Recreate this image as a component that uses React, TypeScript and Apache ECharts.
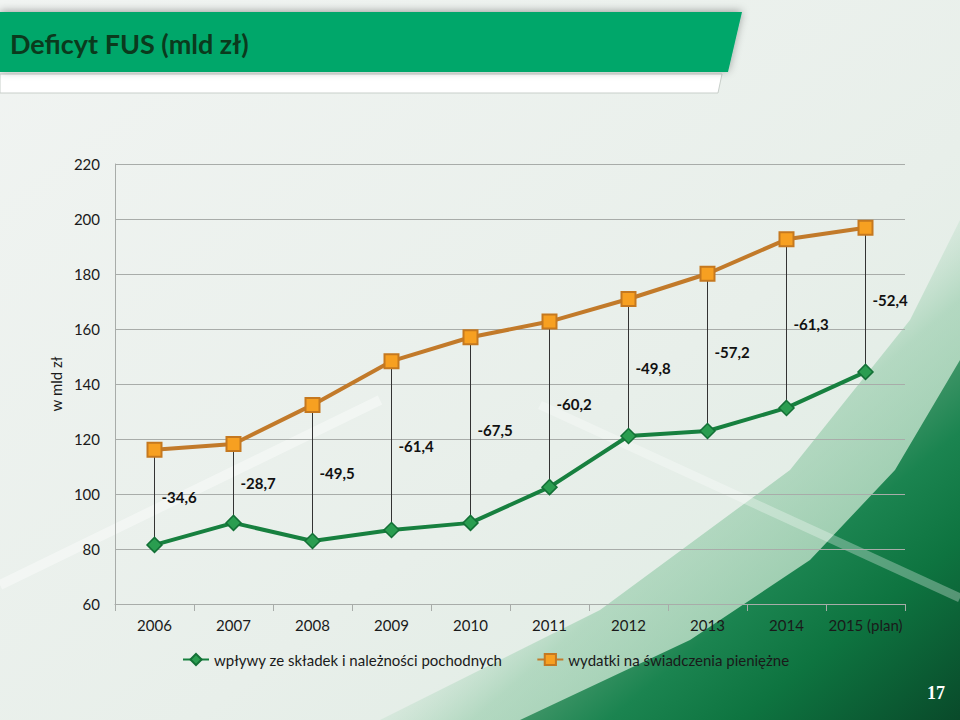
import React, { useEffect, useRef } from "react";
import * as echarts from "echarts";

const categories = ["2006", "2007", "2008", "2009", "2010", "2011", "2012", "2013", "2014", "2015 (plan)"];
const wplywy = [81.5, 89.5, 82.9, 86.9, 89.5, 102.5, 121.1, 122.9, 131.3, 144.4];
const wydatki = [116.1, 118.2, 132.4, 148.3, 157.0, 162.7, 170.9, 180.1, 192.6, 196.8];
const deficyt = ["-34,6", "-28,7", "-49,5", "-61,4", "-67,5", "-60,2", "-49,8", "-57,2", "-61,3", "-52,4"];
const yTicks = { min: 60, max: 220, interval: 20 };
const seriesNames = ["wpływy ze składek i należności pochodnych", "wydatki na świadczenia pieniężne"];

const FONT = "Lato, 'Open Sans', sans-serif";

export default function App() {
  const ref = useRef<HTMLDivElement>(null);
  useEffect(() => {
    if (!ref.current) return;
    const chart = echarts.init(ref.current, undefined, { renderer: "svg" });
    const hilo = categories.map((_, i) => [i, wplywy[i], wydatki[i], deficyt[i]]);
    const option: any = {
      animation: false,
      backgroundColor: new echarts.graphic.LinearGradient(0, 0, 1, 1, [
        { offset: 0, color: "#f1f4f2" },
        { offset: 0.6, color: "#e8efea" },
        { offset: 1, color: "#dcebe1" },
      ]),
      textStyle: { fontFamily: FONT },
      graphic: [
        {
          type: "polygon",
          z: -21,
          shape: {
            points: [[380, 720], [600, 610], [790, 470], [910, 320], [960, 220], [960, 720]],
          },
          style: {
            fill: new echarts.graphic.LinearGradient(0, 0, 1, 1, [
              { offset: 0.45, color: "rgba(170,215,185,0)" },
              { offset: 0.58, color: "rgba(130,195,155,0.5)" },
              { offset: 1, color: "rgba(80,165,115,0.8)" },
            ]),
          },
        },
        {
          type: "polygon",
          z: -20,
          shape: {
            points: [[520, 720], [690, 640], [810, 560], [895, 470], [960, 360], [960, 720]],
          },
          style: {
            fill: new echarts.graphic.LinearGradient(0, 0, 1, 1, [
              { offset: 0.42, color: "rgba(110,175,135,0.5)" },
              { offset: 0.5, color: "#3d9466" },
              { offset: 0.6, color: "#1b8450" },
              { offset: 0.75, color: "#0e7440" },
              { offset: 1, color: "#094a2a" },
            ]),
          },
        },
        {
          type: "line",
          z: -19,
          shape: { x1: 540, y1: 405, x2: 960, y2: 598 },
          style: { stroke: "rgba(255,255,255,0.3)", lineWidth: 9 },
        },
        {
          type: "line",
          z: -19,
          shape: { x1: 0, y1: 585, x2: 380, y2: 400 },
          style: { stroke: "rgba(255,255,255,0.4)", lineWidth: 10 },
        },
        {
          type: "polygon",
          z: 10,
          shape: { points: [[0, 74], [722, 74], [718, 93], [0, 93]] },
          style: { fill: "#ffffff", stroke: "#c8cfca", lineWidth: 1 },
        },
        {
          type: "polygon",
          z: 11,
          shape: { points: [[0, 12], [742, 12], [728, 72], [0, 72]] },
          style: {
            fill: "#00a76b",
            shadowBlur: 8,
            shadowColor: "rgba(0,0,0,0.35)",
            shadowOffsetY: -1,
          },
        },
        {
          type: "text",
          z: 12,
          x: 10,
          y: 43,
          style: {
            text: "Deficyt FUS (mld zł)",
            fill: "#0b3a1d",
            font: `bold 27px ${FONT}`,
            align: "left",
            verticalAlign: "middle",
          },
        },
        {
          type: "text",
          z: 12,
          x: 936,
          y: 693,
          style: {
            text: "17",
            fill: "#ffffff",
            font: "bold 18px 'Liberation Serif', 'DejaVu Serif', serif",
            align: "center",
            verticalAlign: "middle",
          },
        },
      ],
      grid: { left: 115, right: 55, top: 164, bottom: 116, containLabel: false },
      legend: {
        data: seriesNames,
        left: 177,
        top: 647,
        itemWidth: 26,
        itemHeight: 14,
        itemGap: 34,
        textStyle: { fontSize: 15, color: "#1a1a1a", fontFamily: FONT },
      },
      xAxis: {
        type: "category",
        data: categories,
        boundaryGap: true,
        axisLine: { show: true, lineStyle: { color: "#a8aca9", width: 1 } },
        axisTick: { show: true, length: 7, interval: 0, lineStyle: { color: "#a8aca9" } },
        axisLabel: { fontSize: 15, color: "#1a1a1a", margin: 13, interval: 0, fontFamily: FONT },
      },
      yAxis: {
        type: "value",
        min: yTicks.min,
        max: yTicks.max,
        interval: yTicks.interval,
        name: "w mld zł",
        nameLocation: "middle",
        nameGap: 52,
        nameRotate: 90,
        nameTextStyle: { fontSize: 15, color: "#1a1a1a", fontFamily: FONT },
        axisLine: { show: true, lineStyle: { color: "#a8aca9", width: 1 } },
        axisTick: { show: false },
        axisLabel: { fontSize: 15, color: "#1a1a1a", margin: 15, fontFamily: FONT },
        splitLine: { show: true, lineStyle: { color: "#a8aca9", width: 1 } },
      },
      series: [
        {
          type: "custom",
          name: "hilo",
          z: 1,
          silent: true,
          data: hilo,
          encode: { x: 0, y: [1, 2] },
          renderItem: (params: any, api: any) => {
            const i = api.value(0);
            const lo = api.value(1);
            const hi = api.value(2);
            const p1 = api.coord([i, lo]);
            const p2 = api.coord([i, hi]);
            const mid = api.coord([i, (lo + hi) / 2]);
            return {
              type: "group",
              children: [
                {
                  type: "line",
                  shape: { x1: p1[0], y1: p1[1], x2: p2[0], y2: p2[1] },
                  style: { stroke: "#333333", lineWidth: 1 },
                },
                {
                  type: "text",
                  x: mid[0] + 7,
                  y: mid[1],
                  style: {
                    text: hilo[params.dataIndex][3],
                    fill: "#111111",
                    font: `bold 15px ${FONT}`,
                    align: "left",
                    verticalAlign: "middle",
                  },
                },
              ],
            };
          },
        },
        {
          type: "line",
          name: seriesNames[0],
          z: 3,
          data: wplywy,
          symbol: "diamond",
          symbolSize: 15,
          lineStyle: { color: "#17803f", width: 4 },
          itemStyle: { color: "#2a9d50", borderColor: "#137036", borderWidth: 1.5 },
        },
        {
          type: "line",
          name: seriesNames[1],
          z: 3,
          data: wydatki,
          symbol: "rect",
          symbolSize: 14,
          lineStyle: { color: "#c27a2a", width: 4 },
          itemStyle: { color: "#f7a021", borderColor: "#c5781f", borderWidth: 2 },
        },
      ],
    };
    chart.setOption(option);
    return () => chart.dispose();
  }, []);
  return (
    <div
      ref={ref}
      style={{ position: "fixed", left: 0, top: 0, width: 960, height: 720 }}
    />
  );
}
